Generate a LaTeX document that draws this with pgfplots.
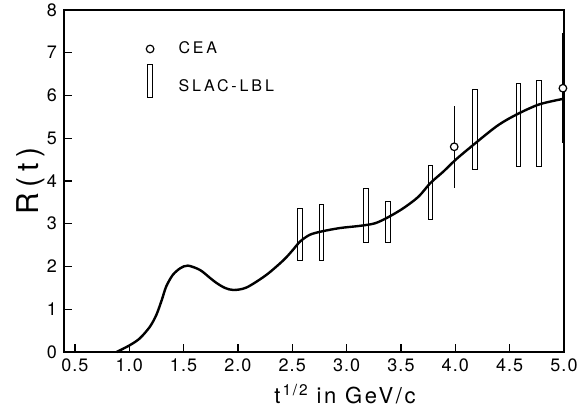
\documentclass[border=0pt]{standalone}
\usepackage{fontspec}
\setmainfont{TeX Gyre Heros}
\newfontfamily\spaced[LetterSpace=18]{TeX Gyre Heros}
\newfontfamily\labfont[LetterSpace=12]{TeX Gyre Heros}
\newfontfamily\ticks[LetterSpace=6]{TeX Gyre Heros}
\usepackage{pgfplots}
\pgfplotsset{compat=1.18}

\begin{document}
\begin{tikzpicture}
\begin{axis}[
    width=250pt, height=171pt, scale only axis,
    xmin=0.4, xmax=5.0, ymin=0, ymax=8,
    xtick={0.5,1.0,...,5.0}, ytick={0,1,...,8},
    tick align=inside,
    xtick pos=lower, ytick pos=left,
    major tick length=4pt,
    every tick/.style={black, line width=0.7pt},
    axis line style={black, line width=0.8pt},
    /pgf/number format/assume math mode=true,
    xticklabel style={/pgf/number format/fixed, /pgf/number format/fixed zerofill,
        /pgf/number format/precision=1, font=\ticks\fontsize{9}{10}\selectfont},
    yticklabel style={font=\ticks\fontsize{9}{10}\selectfont},
    xlabel={\labfont\fontsize{11}{13}\selectfont t\textsuperscript{\kern1pt 1/2}\kern4pt in GeV/c},
    xlabel style={at={(axis description cs:0.562,0)}, anchor=north, yshift=-12.5pt},
    ylabel={\spaced\fontsize{15}{17}\selectfont R(t)},
    ylabel style={at={(axis description cs:0,0.5)}, anchor=south, yshift=6pt},
    clip=false,
    legend style={at={(axis cs:1.056,7.46)}, anchor=north west, draw=none, fill=none,
        font=\spaced\fontsize{8}{9.5}\selectfont, row sep=2pt,
        cells={anchor=west}},
]
% top and right frame lines, drawn separately
\draw[black, line width=1pt] (rel axis cs:0,1) -- (rel axis cs:1,1);
\draw[black, line width=1pt] (rel axis cs:1,0) -- (rel axis cs:1,1);
% SLAC-LBL boxes (x-w, lo) .. (x+w, hi)
\addplot[black, line width=0.5pt, forget plot] coordinates {(2.549,2.15)(2.591,2.15)(2.591,3.36)(2.549,3.36)} -- cycle;
\addplot[black, line width=0.5pt, forget plot] coordinates {(2.749,2.13)(2.791,2.13)(2.791,3.46)(2.749,3.46)} -- cycle;
\addplot[black, line width=0.5pt, forget plot] coordinates {(3.159,2.56)(3.201,2.56)(3.201,3.83)(3.159,3.83)} -- cycle;
\addplot[black, line width=0.5pt, forget plot] coordinates {(3.359,2.56)(3.401,2.56)(3.401,3.52)(3.359,3.52)} -- cycle;
\addplot[black, line width=0.5pt, forget plot] coordinates {(3.749,3.09)(3.791,3.09)(3.791,4.37)(3.749,4.37)} -- cycle;
\addplot[black, line width=0.5pt, forget plot] coordinates {(4.159,4.26)(4.201,4.26)(4.201,6.13)(4.159,6.13)} -- cycle;
\addplot[black, line width=0.5pt, forget plot] coordinates {(4.559,4.33)(4.601,4.33)(4.601,6.29)(4.559,6.29)} -- cycle;
\addplot[black, line width=0.5pt, forget plot] coordinates {(4.749,4.33)(4.791,4.33)(4.791,6.35)(4.749,6.35)} -- cycle;
% fitted curve
\addplot[black, line width=1.2pt, smooth, forget plot] coordinates {
(0.884,0)(1.006,0.16)(1.098,0.32)(1.19,0.59)(1.25,0.87)(1.30,1.22)(1.34,1.53)
(1.40,1.80)(1.47,1.96)(1.54,2.02)(1.65,1.92)(1.74,1.74)(1.80,1.62)(1.88,1.50)
(1.96,1.45)(2.08,1.51)(2.26,1.80)(2.42,2.15)(2.51,2.40)(2.57,2.58)(2.66,2.74)
(2.77,2.82)(2.94,2.90)(3.12,2.95)(3.26,3.01)(3.38,3.15)(3.52,3.36)(3.66,3.63)
(3.77,3.95)(3.89,4.22)(4.0,4.49)(4.13,4.77)(4.38,5.28)(4.56,5.55)(4.77,5.79)
(4.99,5.92)};
% CEA points
\addplot[black, only marks, mark=*, mark size=1.9pt,
    mark options={fill=white, line width=0.6pt},
    legend image code/.code={
        \path (0pt,0pt) (16pt,0pt);
        \draw[black, fill=white, line width=0.6pt] (4pt,0pt) circle (1.9pt);},
    error bars/.cd, y dir=both, y explicit,
    error bar style={line width=0.6pt}, error mark=none]
    coordinates {(3.99,4.80) +- (0,0.96) (4.99,6.17) +- (0,1.29)};
\addlegendentry{CEA}
\addlegendimage{legend image code/.code={
    \path (0pt,0pt) (16pt,0pt);
    \draw[line width=0.5pt] (2.75pt,-5.5pt) rectangle (5.25pt,11pt);}}
\addlegendentry{SLAC-LBL}
\end{axis}
\pgfresetboundingbox
\path[use as bounding box] ([xshift=-32pt,yshift=-29pt]current axis.south west)
    rectangle ([xshift=9.5pt,yshift=5pt]current axis.north east);
\end{tikzpicture}
\end{document}
